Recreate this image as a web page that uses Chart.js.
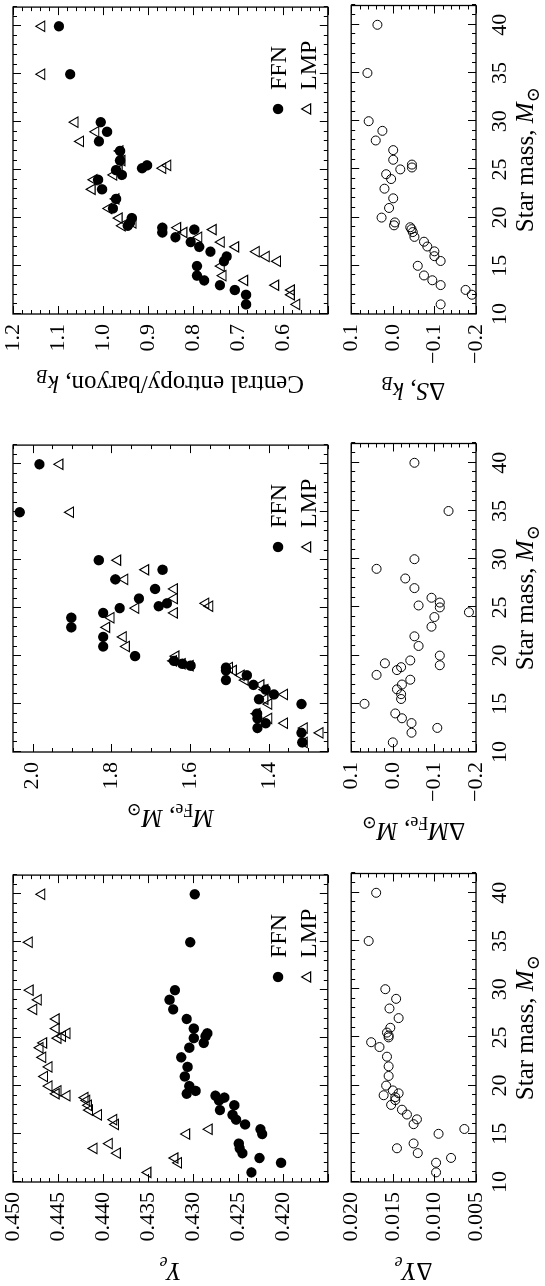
<!DOCTYPE html>
<html>
<head>
<meta charset="utf-8">
<title>Presupernova cores: FFN vs LMP weak rates</title>
<script src="https://cdn.jsdelivr.net/npm/chart.js"></script>
<style>
  html, body { margin: 0; padding: 0; background: #fff; overflow: hidden; }
  /* the figure is laid out landscape and turned a quarter turn */
  #figure {
    position: absolute; left: 0; top: 0;
    width: 1286px; height: 545px;
    transform-origin: 0 0;
    transform: translate(0, 1286px) rotate(-90deg);
  }
  #figure canvas { position: absolute; }
</style>
</head>
<body>
<div id="figure"></div>
<script>
// progenitor masses (M_sun)
const starMass = [11, 12, 12.5, 13, 13.5, 14, 15, 15.5, 16, 16.5, 17, 17.5, 18, 18.5, 18.8, 19, 19.2, 19.5,
    20, 21, 22, 23, 24, 24.5, 25, 25.2, 25.5, 26, 27, 28, 29, 30, 35, 40];

// central electron fraction
const yeFFN = [0.4235, 0.4202, 0.4226, 0.4245, 0.4248, 0.4249, 0.4223, 0.4225, 0.4242, 0.4252, 0.4256, 0.4270,
    0.4254, 0.4271, 0.4265, 0.4275, 0.4307, 0.4297, 0.4304, 0.4309, 0.4306, 0.4313, 0.4304, 0.4288, 0.4299,
    0.4286, 0.4284, 0.4299, 0.4307, 0.4322, 0.4326, 0.4320, 0.4303, 0.4298];
const yeLMP = [0.4350, 0.4316, 0.4320, 0.4384, 0.4410, 0.4393, 0.4307, 0.4282, 0.4386, 0.4388, 0.4405, 0.4415,
    0.4416, 0.4418, 0.4420, 0.4440, 0.4452, 0.4450, 0.4460, 0.4465, 0.4460, 0.4467, 0.4470, 0.4466, 0.4450,
    0.4445, 0.4440, 0.4452, 0.4452, 0.4477, 0.4472, 0.4481, 0.4482, 0.4468];
const yeDelta = [0.0098, 0.0098, 0.0080, 0.0120, 0.0145, 0.0125, 0.0095, 0.0064, 0.0125, 0.0121, 0.0133, 0.0139,
    0.0152, 0.0147, 0.0147, 0.0161, 0.0143, 0.0150, 0.0158, 0.0155, 0.0155, 0.0157, 0.0166, 0.0176, 0.0155,
    0.0155, 0.0157, 0.0153, 0.0143, 0.0154, 0.0146, 0.0159, 0.0179, 0.0170];

// iron core mass (M_sun)
const feFFN = [1.315, 1.317, 1.429, 1.408, 1.429, 1.43, 1.317, 1.425, 1.387, 1.408, 1.439, 1.509, 1.456, 1.509,
    1.509, 1.599, 1.620, 1.641, 1.740, 1.821, 1.821, 1.902, 1.902, 1.821, 1.779, 1.680, 1.659, 1.730, 1.689,
    1.790, 1.670, 1.832, 2.033, 1.983];
const feLMP = [1.31, 1.27, 1.31, 1.36, 1.40, 1.43, 1.40, 1.41, 1.36, 1.41, 1.42, 1.46, 1.47, 1.49, 1.50, 1.60,
    1.62, 1.642, 1.636, 1.762, 1.770, 1.812, 1.801, 1.640, 1.738, 1.55, 1.56, 1.64, 1.64, 1.766, 1.713, 1.784,
    1.904, 1.931];
const feDelta = [0.000, -0.045, -0.107, -0.045, -0.022, -0.006, 0.068, -0.020, -0.020, -0.010, -0.022, -0.042,
    0.039, -0.010, -0.020, -0.113, 0.019, -0.042, -0.113, -0.062, -0.052, -0.093, -0.100, -0.183, -0.113,
    -0.062, -0.113, -0.093, -0.052, -0.030, 0.039, -0.052, -0.134, -0.052];

// central entropy per baryon (k_B)
const entropyFFN = [0.682, 0.682, 0.707, 0.740, 0.775, 0.791, 0.791, 0.731, 0.725, 0.761, 0.786, 0.805, 0.839,
    0.868, 0.797, 0.868, 0.945, 0.940, 0.936, 0.978, 0.971, 1.002, 1.011, 0.958, 0.971, 0.913, 0.902, 0.962,
    0.962, 1.009, 0.991, 1.005, 1.073, 1.098];
const entropyLMP = [0.569, 0.581, 0.581, 0.616, 0.685, 0.733, 0.737, 0.612, 0.637, 0.659, 0.705, 0.737, 0.787,
    0.820, 0.755, 0.834, 0.957, 0.933, 0.964, 0.987, 0.971, 1.024, 1.020, 0.976, 0.964, 0.867, 0.856, 0.958,
    0.962, 1.050, 1.016, 1.062, 1.136, 1.136];
const entropyDelta = [-0.115, -0.19, -0.175, -0.115, -0.095, -0.075, -0.060, -0.115, -0.100, -0.100, -0.083,
    -0.075, -0.052, -0.048, -0.045, -0.042, -0.003, -0.005, 0.027, 0.009, -0.001, 0.020, 0.004, 0.016, -0.018,
    -0.046, -0.046, -0.001, -0.001, 0.041, 0.025, 0.058, 0.061, 0.037];

// tick labels
const massTicks = [10, 15, 20, 25, 30, 35, 40];
const yeTicks = [0.420, 0.425, 0.430, 0.435, 0.440, 0.445, 0.450];
const yeDiffTicks = [0.005, 0.010, 0.015, 0.020];
const feTicks = [1.4, 1.6, 1.8, 2.0];
const feDiffTicks = [-0.2, -0.1, 0.0, 0.1];
const entropyTicks = [0.6, 0.7, 0.8, 0.9, 1.0, 1.1, 1.2];
const entropyDiffTicks = [-0.2, -0.1, 0.0, 0.1];

const SERIF = '"Liberation Serif", "DejaVu Serif", serif';
const TICK_FONT = 22, TITLE_FONT = 25, LEGEND_FONT = 24;
const AXIS_W = 104, PLOT_W = 309, RIGHT_PAD = 5;
const MAIN_TOP = 13, MAIN_H = 335, DIFF_H = 128, FOOT_H = 69;
const MAIN_PAD = 33, DIFF_PAD = 20;

const fig = document.getElementById("figure");

function fmt(digits) {
    return (v) => {
        const s = Math.abs(v) < 1e-9 ? (0).toFixed(digits) : v.toFixed(digits);
        return s.replace("-", "\u2212");
    };
}

// text runs: '' upright, 'i' italic, 's' subscript, 'si' italic subscript
function drawRich(ctx, parts, cx, baseline, size) {
    const fontFor = (st) =>
        `${st.includes("i") ? "italic " : ""}${st.includes("s") ? Math.round(size * 0.7) : size}px ${SERIF}`;
    let total = 0;
    parts.forEach(([t, st]) => {
        ctx.font = fontFor(st);
        total += ctx.measureText(t).width;
    });
    let x = cx - total / 2;
    ctx.textAlign = "left";
    ctx.textBaseline = "alphabetic";
    parts.forEach(([t, st]) => {
        ctx.font = fontFor(st);
        ctx.fillText(t, x, baseline + (st.includes("s") ? size * 0.22 : 0));
        x += ctx.measureText(t).width;
    });
}

function line(ctx, x1, y1, x2, y2) {
    ctx.beginPath();
    ctx.moveTo(x1, y1);
    ctx.lineTo(x2, y2);
    ctx.stroke();
}

// inward ticks on all four sides plus the frame
const frameTicks = {
    id: "frameTicks",
    afterDatasetsDraw(chart, args, opts) {
        const { ctx, chartArea: a } = chart;
        const x = chart.scales.x, y = chart.scales.y;
        ctx.save();
        ctx.strokeStyle = "#000";
        ctx.lineWidth = 1;
        for (let v = Math.ceil(x.min); v <= x.max; v++) {
            const px = Math.round(x.getPixelForValue(v)) + 0.5;
            const len = v % 5 === 0 ? 8 : 4;
            line(ctx, px, a.bottom, px, a.bottom - len);
            line(ctx, px, a.top, px, a.top + len);
        }
        const k0 = Math.ceil(y.min / opts.minor - 1e-6), k1 = Math.floor(y.max / opts.minor + 1e-6);
        const ratio = Math.round(opts.major / opts.minor);
        for (let k = k0; k <= k1; k++) {
            const py = Math.round(y.getPixelForValue(k * opts.minor)) + 0.5;
            const len = k % ratio === 0 ? 8 : 4;
            line(ctx, a.left, py, a.left + len, py);
            line(ctx, a.right, py, a.right - len, py);
        }
        ctx.lineWidth = 1.3;
        ctx.strokeRect(a.left, a.top, a.right - a.left, a.bottom - a.top);
        ctx.restore();
    },
};

// axis titles and the FFN / LMP key
const labels = {
    id: "labels",
    afterDraw(chart, args, opts) {
        const { ctx, chartArea: a } = chart;
        ctx.save();
        ctx.fillStyle = "#000";
        const midY = (a.top + a.bottom) / 2;
        ctx.translate(opts.titleX, midY);
        ctx.rotate(-Math.PI / 2);
        drawRich(ctx, opts.yTitle, 0, TITLE_FONT * 0.33, TITLE_FONT);
        ctx.restore();

        if (opts.xTitle) {
            ctx.save();
            ctx.fillStyle = "#000";
            drawRich(ctx, opts.xTitle, (a.left + a.right) / 2, a.bottom + 57, TITLE_FONT);
            ctx.restore();
        }

        if (opts.key) {
            const mx = a.left + 205, tx = a.left + 224;
            const rowFFN = a.top + 265, rowLMP = a.top + 294.6;
            ctx.save();
            ctx.fillStyle = "#000";
            ctx.strokeStyle = "#000";
            ctx.beginPath();
            ctx.arc(mx, rowFFN, 5.2, 0, Math.PI * 2);
            ctx.fill();
            const r = 6;
            ctx.lineWidth = 1.1;
            ctx.beginPath();
            ctx.moveTo(mx, rowLMP - r);
            ctx.lineTo(mx + r * Math.sin(2 * Math.PI / 3), rowLMP - r * Math.cos(2 * Math.PI / 3));
            ctx.lineTo(mx + r * Math.sin(4 * Math.PI / 3), rowLMP - r * Math.cos(4 * Math.PI / 3));
            ctx.closePath();
            ctx.stroke();
            ctx.font = `${LEGEND_FONT}px ${SERIF}`;
            ctx.textAlign = "left";
            ctx.textBaseline = "alphabetic";
            ctx.fillText("FFN", tx, rowFFN + LEGEND_FONT * 0.33);
            ctx.fillText("LMP", tx, rowLMP + LEGEND_FONT * 0.33);
            ctx.restore();
        }
    },
};

function pointsOf(values) {
    return starMass.map((m, i) => ({ x: m, y: values[i] }));
}

function makeCanvas(left, top, width, height) {
    const c = document.createElement("canvas");
    c.width = width;
    c.height = height;
    c.style.left = left + "px";
    c.style.top = top + "px";
    c.style.width = width + "px";
    c.style.height = height + "px";
    fig.appendChild(c);
    return c;
}

function yScale(min, max, tickValues, digits) {
    return {
        type: "linear",
        position: "left",
        min: min,
        max: max,
        grid: { display: false, drawTicks: false },
        border: { display: false },
        ticks: {
            color: "#000",
            font: { family: SERIF, size: TICK_FONT },
            padding: 10,
            callback: fmt(digits),
        },
        afterBuildTicks: (scale) => {
            scale.ticks = tickValues.map((v) => ({ value: v }));
        },
        afterFit: (scale) => {
            scale.width = AXIS_W;
        },
    };
}

function drawPanel(p) {
    const canvasLeft = p.plotLeft - AXIS_W;
    const width = AXIS_W + PLOT_W + RIGHT_PAD;

    // upper panel: FFN and LMP values
    const mainCanvas = makeCanvas(canvasLeft, MAIN_TOP - MAIN_PAD, width, MAIN_PAD + MAIN_H + 3);
    new Chart(mainCanvas, {
        type: "scatter",
        data: {
            datasets: [
                {
                    label: "FFN",
                    data: pointsOf(p.ffn),
                    pointStyle: "circle",
                    pointRadius: 5.2,
                    backgroundColor: "#000",
                    borderColor: "#000",
                    borderWidth: 0,
                    clip: false,
                },
                {
                    label: "LMP",
                    data: pointsOf(p.lmp),
                    pointStyle: "triangle",
                    pointRadius: 6,
                    backgroundColor: "rgba(0,0,0,0)",
                    borderColor: "#000",
                    borderWidth: 1.1,
                    clip: false,
                },
            ],
        },
        options: {
            responsive: false,
            animation: false,
            devicePixelRatio: 1,
            layout: { padding: { left: 0, top: MAIN_PAD, right: RIGHT_PAD, bottom: 3 } },
            scales: {
                x: { type: "linear", min: 10, max: 42, display: false },
                y: yScale(p.min, p.max, p.ticks, p.digits),
            },
            plugins: {
                legend: { display: false },
                tooltip: { enabled: false },
                frameTicks: { major: p.major, minor: p.minor },
                labels: { yTitle: p.title, titleX: p.titleX - canvasLeft, key: true },
            },
        },
        plugins: [frameTicks, labels],
    });

    // lower panel: LMP minus FFN
    const diffCanvas = makeCanvas(canvasLeft, MAIN_TOP + MAIN_H - DIFF_PAD, width, DIFF_PAD + DIFF_H + FOOT_H);
    new Chart(diffCanvas, {
        type: "scatter",
        data: {
            datasets: [
                {
                    label: "difference",
                    data: pointsOf(p.delta),
                    pointStyle: "circle",
                    pointRadius: 4.5,
                    backgroundColor: "rgba(0,0,0,0)",
                    borderColor: "#000",
                    borderWidth: 1,
                    clip: false,
                },
            ],
        },
        options: {
            responsive: false,
            animation: false,
            devicePixelRatio: 1,
            layout: { padding: { left: 0, top: DIFF_PAD, right: RIGHT_PAD, bottom: 0 } },
            scales: {
                x: {
                    type: "linear",
                    position: "bottom",
                    min: 10,
                    max: 42,
                    grid: { display: false, drawTicks: false },
                    border: { display: false },
                    ticks: {
                        color: "#000",
                        font: { family: SERIF, size: TICK_FONT },
                        padding: 11,
                        maxRotation: 0,
                        autoSkip: false,
                        callback: (v) => String(v),
                    },
                    afterBuildTicks: (scale) => {
                        scale.ticks = massTicks.map((v) => ({ value: v }));
                    },
                    afterFit: (scale) => {
                        scale.height = FOOT_H;
                    },
                },
                y: yScale(p.dmin, p.dmax, p.dticks, p.digits),
            },
            plugins: {
                legend: { display: false },
                tooltip: { enabled: false },
                frameTicks: { major: p.dmajor, minor: p.dminor },
                labels: {
                    yTitle: p.dtitle,
                    titleX: p.dtitleX - canvasLeft,
                    xTitle: [["Star mass, ", ""], ["M", "i"], ["\u2299", "s"]],
                },
            },
        },
        plugins: [frameTicks, labels],
    });
}

drawPanel({
    plotLeft: 104,
    ffn: yeFFN, lmp: yeLMP, delta: yeDelta,
    min: 0.415, max: 0.450, ticks: yeTicks, major: 0.005, minor: 0.001, digits: 3,
    dmin: 0.005, dmax: 0.020, dticks: yeDiffTicks, dmajor: 0.005, dminor: 0.001,
    title: [["Y", "i"], ["e", "si"]], titleX: 15,
    dtitle: [["\u0394", ""], ["Y", "i"], ["e", "si"]], dtitleX: 15,
});

drawPanel({
    plotLeft: 534,
    ffn: feFFN, lmp: feLMP, delta: feDelta,
    min: 1.25, max: 2.05, ticks: feTicks, major: 0.2, minor: 0.05, digits: 1,
    dmin: -0.2, dmax: 0.1, dticks: feDiffTicks, dmajor: 0.1, dminor: 0.02,
    title: [["M", "i"], ["Fe", "s"], [", ", ""], ["M", "i"], ["\u2299", "s"]], titleX: 468,
    dtitle: [["\u0394", ""], ["M", "i"], ["Fe", "s"], [", ", ""], ["M", "i"], ["\u2299", "s"]], dtitleX: 455,
});

drawPanel({
    plotLeft: 972,
    ffn: entropyFFN, lmp: entropyLMP, delta: entropyDelta,
    min: 0.5, max: 1.2, ticks: entropyTicks, major: 0.1, minor: 0.02, digits: 1,
    dmin: -0.2, dmax: 0.1, dticks: entropyDiffTicks, dmajor: 0.1, dminor: 0.02,
    title: [["Central entropy/baryon, ", ""], ["k", "i"], ["B", "si"]], titleX: 902,
    dtitle: [["\u0394", ""], ["S", "i"], [", ", ""], ["k", "i"], ["B", "si"]], dtitleX: 895,
});
</script>
</body>
</html>
